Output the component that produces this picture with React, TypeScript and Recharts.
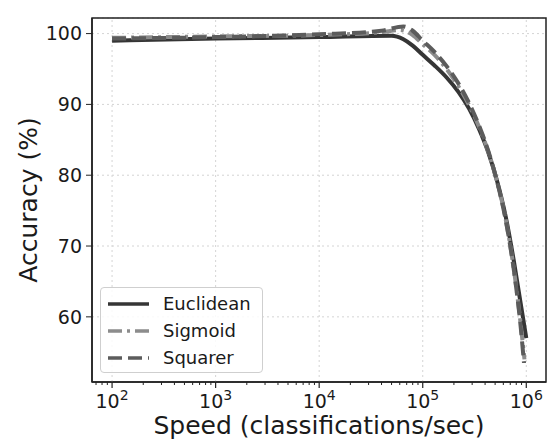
import React from "react"
import {
  LineChart, Line, XAxis, YAxis, CartesianGrid, ReferenceLine, ReferenceArea, Label,
} from "recharts"

// ── Data ─────────────────────────────────────────────────────────────────────

const euclidSpeed = [100, 1000, 10000, 50000, 65000, 80000, 100000, 130000, 170000, 220000, 280000, 350000, 430000, 520000, 630000, 760000, 880000, 1000000]
const euclidAcc   = [99.0, 99.3, 99.5, 99.7, 99.2, 98.3, 97.0, 95.5, 93.8, 91.8, 89.4, 86.5, 83.2, 79.3, 74.3, 67.8, 62.0, 57.0]

const sigmoidSpeed = [100, 1000, 10000, 40000, 60000, 80000, 100000, 130000, 170000, 220000, 280000, 350000, 430000, 520000, 630000, 760000, 870000, 960000]
const sigmoidAcc   = [99.4, 99.6, 99.8, 100.2, 100.5, 99.8, 98.5, 97.0, 95.0, 92.6, 89.9, 86.8, 83.3, 79.2, 73.9, 66.6, 59.8, 54.0]

const squarerSpeed = [100, 1000, 10000, 40000, 65000, 80000, 100000, 130000, 170000, 220000, 280000, 350000, 430000, 520000, 630000, 760000, 870000, 950000]
const squarerAcc   = [99.3, 99.5, 99.9, 100.4, 101.0, 100.4, 99.0, 97.4, 95.4, 93.0, 90.2, 87.0, 83.4, 79.2, 73.8, 66.5, 59.5, 53.5]

const xMajorTicks = [100, 1000, 10000, 100000, 1000000]
const xMinorTicks = [
  70, 80, 90,
  200, 300, 400, 500, 600, 700, 800, 900,
  2000, 3000, 4000, 5000, 6000, 7000, 8000, 9000,
  20000, 30000, 40000, 50000, 60000, 70000, 80000, 90000,
  200000, 300000, 400000, 500000, 600000, 700000, 800000, 900000,
]
const yTicks = [60, 70, 80, 90, 100]

const X_DOMAIN: [number, number] = [64, 1550000]
const Y_DOMAIN: [number, number] = [50.8, 102.2]

const toPoints = (xs: number[], ys: number[]) => xs.map((x, i) => ({ speed: x, acc: ys[i] }))

const euclidean = toPoints(euclidSpeed, euclidAcc)
const sigmoid   = toPoints(sigmoidSpeed, sigmoidAcc)
const squarer   = toPoints(squarerSpeed, squarerAcc)

const FONT = "'DejaVu Sans', sans-serif"
const INK = "#1a1a1a"

const series = [
  { name: "Euclidean", data: euclidean, color: "#353535", dash: undefined as string | undefined },
  { name: "Sigmoid",   data: sigmoid,   color: "#8c8c8c", dash: "14 5 3 5" },
  { name: "Squarer",   data: squarer,   color: "#5c5c5c", dash: "14 6" },
]

// ── Log-axis tick with superscript exponent ──────────────────────────────────

function XTick(props: any) {
  const { x, y, payload } = props
  const v = payload.value as number
  const major = xMajorTicks.includes(v)
  if (!major) {
    return <line x1={x} x2={x} y1={y} y2={y + 3} stroke="#222" strokeWidth={1} />
  }
  const exp = Math.round(Math.log10(v))
  return (
    <g>
      <line x1={x} x2={x} y1={y} y2={y + 6} stroke="#222" strokeWidth={1.2} />
      <text x={x} y={y + 26} textAnchor="middle" fontFamily={FONT} fontSize={19} fill={INK}>
        <tspan>10</tspan>
        <tspan dy={-8} fontSize={14}>{exp}</tspan>
      </text>
    </g>
  )
}

// ── Legend ───────────────────────────────────────────────────────────────────

function LegendBox() {
  return (
    <div
      style={{
        position: "absolute", left: 100, top: 287, width: 163, height: 86,
        border: "1px solid #cfcfcf", borderRadius: 4, background: "rgba(255,255,255,0.85)",
        boxSizing: "border-box", paddingTop: 2,
      }}
    >
      {series.map((s) => (
        <div key={s.name} style={{ display: "flex", alignItems: "center", height: 27 }}>
          <svg width={48} height={10} style={{ marginLeft: 6 }}>
            <line x1={1} x2={42} y1={5} y2={5} stroke={s.color} strokeWidth={3.5} strokeDasharray={s.dash} />
          </svg>
          <span style={{ marginLeft: 8, fontFamily: FONT, fontSize: 18, color: INK }}>{s.name}</span>
        </div>
      ))}
    </div>
  )
}

export default function App() {
  return (
    <div style={{ position: "absolute", left: 0, top: 0, width: 557, height: 443, background: "#fff" }}>
      <LineChart width={557} height={443} margin={{ top: 18, right: 11, bottom: 0, left: 0 }}>
        <CartesianGrid vertical={false} stroke="#d4d4d4" strokeDasharray="2 3" />
        {xMajorTicks.map((t) => (
          <ReferenceLine key={t} x={t} stroke="#d4d4d4" strokeDasharray="2 3" />
        ))}
        <XAxis
          dataKey="speed"
          type="number"
          scale="log"
          domain={X_DOMAIN}
          allowDataOverflow
          ticks={[...xMajorTicks, ...xMinorTicks]}
          interval={0}
          tickLine={false}
          tickSize={0}
          tickMargin={0}
          tick={<XTick />}
          axisLine={{ stroke: "#222", strokeWidth: 1.5 }}
          height={61}
        >
          <Label
            value="Speed (classifications/sec)"
            position="insideBottom"
            offset={9}
            style={{ fontFamily: FONT, fontSize: 25, fill: INK }}
          />
        </XAxis>
        <YAxis
          type="number"
          domain={Y_DOMAIN}
          allowDataOverflow
          ticks={yTicks}
          width={92}
          tickSize={6}
          tickMargin={4}
          tickLine={{ stroke: "#222" }}
          axisLine={{ stroke: "#222", strokeWidth: 1.5 }}
          tick={{ fontFamily: FONT, fontSize: 19, fill: INK }}
        >
          <Label
            value="Accuracy (%)"
            angle={-90}
            position="insideLeft"
            offset={28}
            style={{ fontFamily: FONT, fontSize: 25, fill: INK, textAnchor: "middle" }}
          />
        </YAxis>
        <ReferenceArea
          x1={X_DOMAIN[0]} x2={X_DOMAIN[1]} y1={Y_DOMAIN[0]} y2={Y_DOMAIN[1]}
          fill="none" stroke="#222" strokeWidth={1.5} ifOverflow="visible"
        />
        {series.map((s) => (
          <Line
            key={s.name}
            data={s.data}
            dataKey="acc"
            name={s.name}
            type="monotone"
            stroke={s.color}
            strokeWidth={4}
            strokeDasharray={s.dash}
            dot={false}
            isAnimationActive={false}
          />
        ))}
      </LineChart>
      <LegendBox />
    </div>
  )
}
